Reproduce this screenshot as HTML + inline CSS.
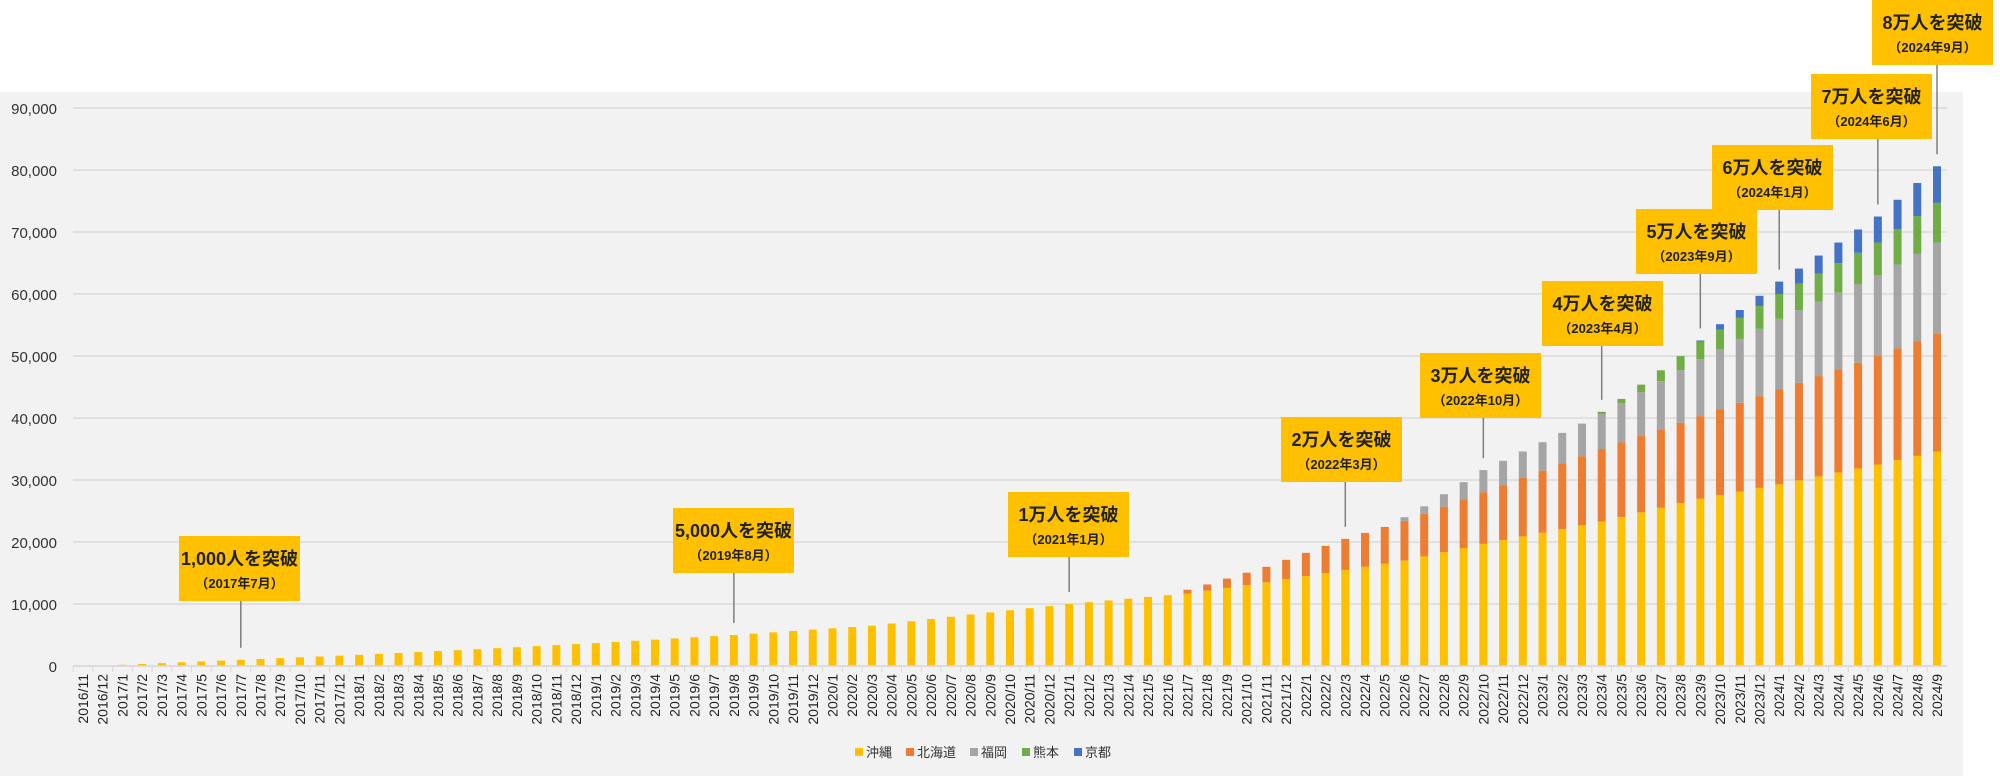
<!DOCTYPE html>
<html><head><meta charset="utf-8">
<style>
html,body{margin:0;padding:0;background:#fff;}
body{width:2000px;height:776px;overflow:hidden;font-family:"Liberation Sans","Noto Sans CJK JP",sans-serif;}
</style></head>
<body>
<svg id="c" width="2000" height="776" xmlns="http://www.w3.org/2000/svg" style="font-family:'Liberation Sans','Noto Sans CJK JP',sans-serif"></svg>
<script>
const svg=document.getElementById('c');
let h='';
h+='<rect x="0" y="92" width="1963" height="684" fill="#f2f2f2"/>';
const y0=666,k=558/90000;
for(let v=0;v<=90000;v+=10000){
  const y=y0-v*k;
  h+=`<line x1="73" x2="1947" y1="${y}" y2="${y}" stroke="#d9d9d9" stroke-width="1.5"/>`;
  h+=`<text x="57" y="${y+6}" text-anchor="end" font-size="15" fill="#333">${v.toLocaleString('en-US')}</text>`;
}
function interp(pts,i){
  if(i<pts[0][0])return 0;
  for(let j=0;j<pts.length-1;j++){const a=pts[j],b=pts[j+1];if(i>=a[0]&&i<=b[0])return a[1]+(b[1]-a[1])*(i-a[0])/(b[0]-a[0]);}
  return pts[pts.length-1][1];
}
const S=[
 {c:'#ffc000',p:[[0,0],[1,0],[2,200],[8,1000],[14,1800],[20,2700],[26,3700],[33,5000],[40,6500],[45,8300],[50,10000],[56,11700],[60,13500],[64,15500],[67,17000],[71,19700],[77,23300],[82,27000],[86,29300],[91,32500],[94,34600]]},
 {c:'#ed7d31',p:[[55,0],[56,600],[57,1000],[60,2500],[64,5000],[67,6400],[71,8300],[77,11700],[82,13300],[86,15300],[91,17500],[94,19000]]},
 {c:'#a5a5a5',p:[[66,0],[67,600],[68,1200],[71,3600],[77,5600],[82,9200],[86,11400],[91,13000],[94,14700]]},
 {c:'#70ad47',p:[[76,0],[77,400],[78,700],[82,2800],[86,4000],[91,5300],[94,6400]]},
 {c:'#4472c4',p:[[81,0],[82,200],[83,900],[86,2000],[91,4200],[94,5900]]}
];
const step=(1937-83)/94, tops=[];
for(let i=0;i<95;i++){
  const x=83+i*step;let cum=0;
  for(const s of S){const v=interp(s.p,i);if(v>0){h+=`<rect x="${x-4}" y="${y0-(cum+v)*k}" width="8" height="${v*k}" fill="${s.c}"/>`;}cum+=v;}
  tops.push(y0-cum*k);
  let yr=2016+Math.floor((i+10)/12),m=(i+10)%12+1;
  h+=`<line x1="${x-step/2}" x2="${x-step/2}" y1="666" y2="672" stroke="#d9d9d9"/>`;
  h+=`<text transform="translate(${x+5},674) rotate(-90)" text-anchor="end" font-size="14" fill="#222">${yr}/${m}</text>`;
}
h+=`<line x1="73" x2="1947" y1="666" y2="666" stroke="#d9d9d9" stroke-width="1.5"/>`;
const A=[
 [8,179,536,'1,000人を突破','（2017年7月）'],
 [33,673,508,'5,000人を突破','（2019年8月）'],
 [50,1008,492,'1万人を突破','（2021年1月）'],
 [64,1281,417,'2万人を突破','（2022年3月）'],
 [71,1420,353,'3万人を突破','（2022年10月）'],
 [77,1542,281,'4万人を突破','（2023年4月）'],
 [82,1636,209,'5万人を突破','（2023年9月）'],
 [86,1712,145,'6万人を突破','（2024年1月）'],
 [91,1811,74,'7万人を突破','（2024年6月）'],
 [94,1872,0,'8万人を突破','（2024年9月）']
];
for(const a of A){
  const x=83+a[0]*step,w=121,hh=65;
  h+=`<line x1="${x}" x2="${x}" y1="${a[2]+hh}" y2="${tops[a[0]]-12}" stroke="#7f7f7f" stroke-width="1.5"/>`;
  h+=`<rect x="${a[1]}" y="${a[2]}" width="${w}" height="${hh}" fill="#ffc000"/>`;
  h+=`<text x="${a[1]+w/2}" y="${a[2]+29}" text-anchor="middle" font-size="18" font-weight="bold" fill="#222">${a[3]}</text>`;
  h+=`<text x="${a[1]+w/2}" y="${a[2]+52}" text-anchor="middle" font-size="13" font-weight="bold" fill="#222">${a[4]}</text>`;
}
const L=[['沖縄','#ffc000',855],['北海道','#ed7d31',906],['福岡','#a5a5a5',970],['熊本','#70ad47',1022],['京都','#4472c4',1074]];
for(const l of L){
  h+=`<rect x="${l[2]}" y="748" width="8" height="8" fill="${l[1]}"/>`;
  h+=`<text x="${l[2]+11}" y="757" font-size="13" fill="#333">${l[0]}</text>`;
}
svg.innerHTML=h;
</script>
</body></html>
